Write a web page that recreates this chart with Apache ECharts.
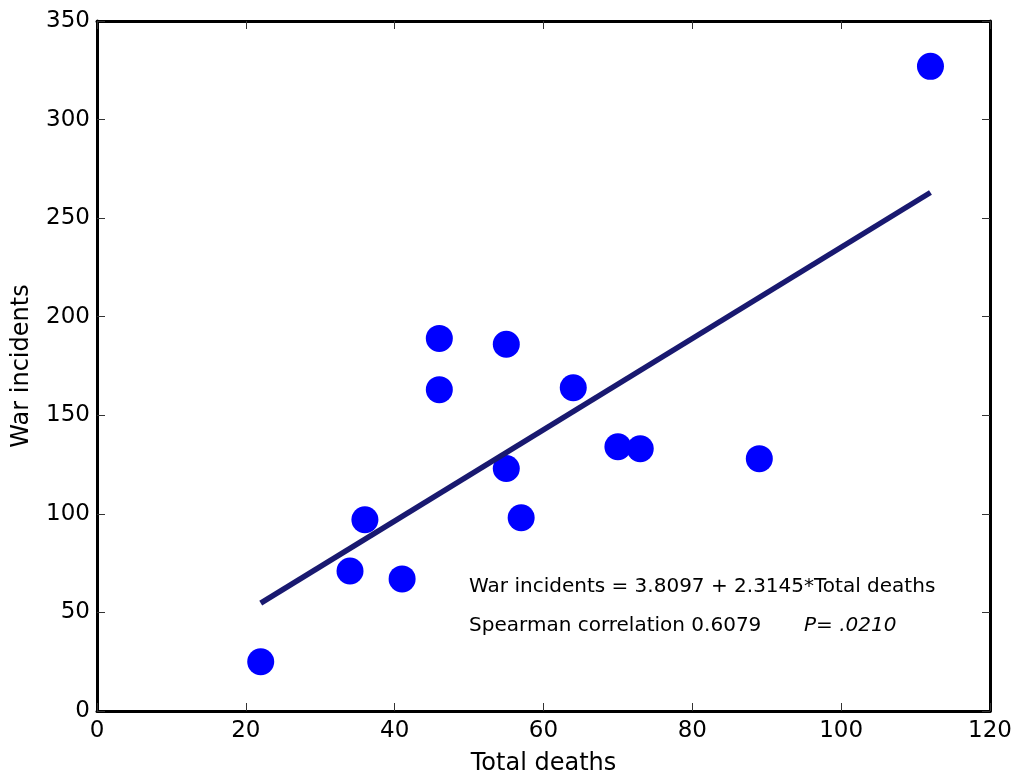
<!DOCTYPE html>
<html>
<head>
<meta charset="utf-8">
<script src="https://cdn.jsdelivr.net/npm/echarts@6/dist/echarts.min.js"></script>
<style>html,body{margin:0;padding:0;background:#fff}#c{width:1016px;height:778px}</style>
</head>
<body>
<div id="c"></div>
<script>
const totalDeaths = [22, 34, 36, 41, 46, 46, 55, 55, 57, 64, 70, 73, 89, 112];
const warIncidents = [25, 71, 97, 67, 189, 163, 186, 123, 98, 164, 134, 133, 128, 327];
const fitX = [22, 112];
const fitY = [54.7, 263.0];
const xTicks = [0, 20, 40, 60, 80, 100, 120];
const yTicks = [0, 50, 100, 150, 200, 250, 300, 350];
const eqText = 'War incidents = 3.8097 + 2.3145*Total deaths';
const corrText = 'Spearman correlation 0.6079';
const pText = 'P= .0210';

const FONT = 'DejaVu Sans';
const chart = echarts.init(document.getElementById('c'), null, {renderer: 'canvas'});

const tickStyle = {show: true, inside: true, length: 8, lineStyle: {color: '#333', width: 1}};
const lineStyle = {show: true, onZero: false, lineStyle: {color: '#000', width: 3}};

const scatterData = totalDeaths.map((x, i) => [x, warIncidents[i]]);
const fitData = fitX.map((x, i) => [x, fitY[i]]);

chart.setOption({
  animation: false,
  backgroundColor: '#fff',
  grid: {left: 97, right: 26, top: 21, bottom: 67, containLabel: false, outerBoundsMode: 'none'},
  xAxis: [{
    type: 'value', position: 'bottom', min: xTicks[0], max: xTicks[xTicks.length - 1], interval: 20,
    name: 'Total deaths', nameLocation: 'middle', nameGap: 41,
    nameTextStyle: {fontFamily: FONT, fontSize: 24, color: '#000'},
    axisLine: lineStyle, axisTick: tickStyle,
    axisLabel: {fontFamily: FONT, fontSize: 23, color: '#000', margin: 9},
    splitLine: {show: false}
  }, {
    type: 'value', position: 'top', min: xTicks[0], max: xTicks[xTicks.length - 1], interval: 20,
    axisLine: lineStyle, axisTick: tickStyle, axisLabel: {show: false}, splitLine: {show: false}
  }],
  yAxis: [{
    type: 'value', position: 'left', min: yTicks[0], max: yTicks[yTicks.length - 1], interval: 50,
    name: 'War incidents', nameLocation: 'middle', nameGap: 63,
    nameTextStyle: {fontFamily: FONT, fontSize: 24, color: '#000'},
    axisLine: lineStyle, axisTick: tickStyle,
    axisLabel: {fontFamily: FONT, fontSize: 23, color: '#000', margin: 7},
    splitLine: {show: false}
  }, {
    type: 'value', position: 'right', min: yTicks[0], max: yTicks[yTicks.length - 1], interval: 50,
    axisLine: lineStyle, axisTick: tickStyle, axisLabel: {show: false}, splitLine: {show: false}
  }],
  series: [{
    type: 'scatter', data: scatterData, symbol: 'circle', symbolSize: 27,
    itemStyle: {color: '#0000ff', opacity: 1}, z: 2
  }, {
    type: 'line', data: fitData, showSymbol: false, symbol: 'none',
    lineStyle: {color: '#191970', width: 5.5}, z: 3
  }]
});

function place() {
  const p1 = chart.convertToPixel({xAxisIndex: 0, yAxisIndex: 0}, [50, 58]);
  const p2 = chart.convertToPixel({xAxisIndex: 0, yAxisIndex: 0}, [50, 38]);
  const p3 = chart.convertToPixel({xAxisIndex: 0, yAxisIndex: 0}, [95, 38]);
  chart.setOption({
    graphic: [
      {type: 'text', x: p1[0], y: p1[1], style: {text: eqText, font: '20px "DejaVu Sans"', fill: '#000', textVerticalAlign: 'bottom'}},
      {type: 'text', x: p2[0], y: p2[1], style: {text: corrText, font: '20px "DejaVu Sans"', fill: '#000', textVerticalAlign: 'bottom'}},
      {type: 'text', x: p3[0], y: p3[1], style: {text: pText, font: 'italic 20px "DejaVu Sans"', fill: '#000', textVerticalAlign: 'bottom'}}
    ]
  });
}
place();
</script>
</body>
</html>
